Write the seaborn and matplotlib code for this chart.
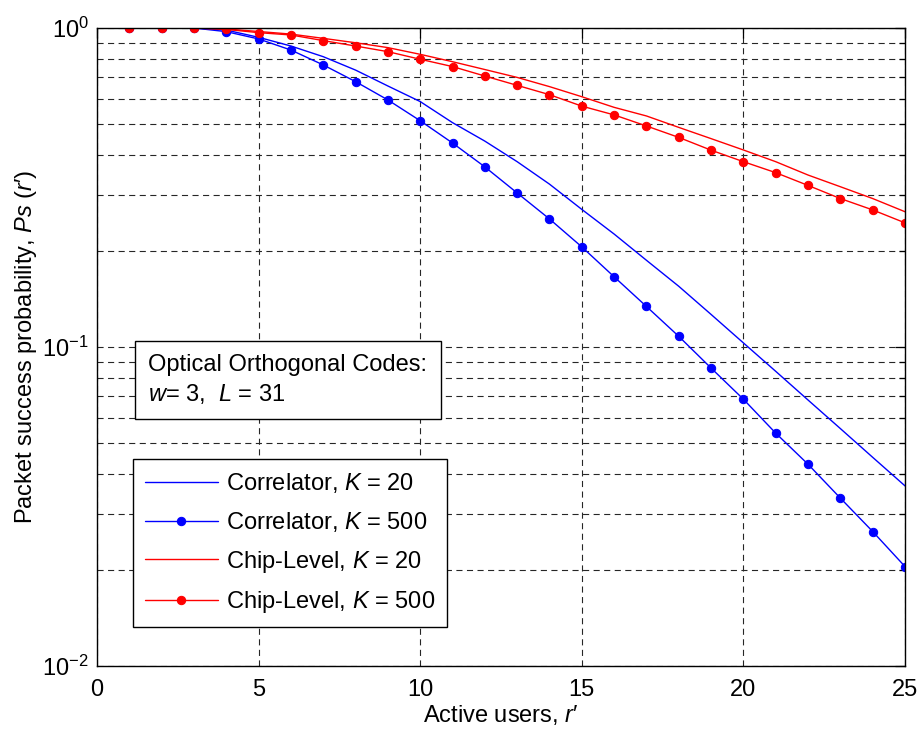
import matplotlib
matplotlib.use("Agg")
import matplotlib.pyplot as plt
import matplotlib.ticker as mticker
from matplotlib.patches import Rectangle
import seaborn as sns
import pandas as pd

# ---- data ----
users = list(range(1, 26))
corr_k20 = [1.0, 1.0, 1.0, 0.985, 0.935, 0.878, 0.813, 0.738, 0.658, 0.588,
            0.505, 0.442, 0.381, 0.324, 0.270, 0.226, 0.187, 0.155, 0.1265,
            0.103, 0.0839, 0.0682, 0.0555, 0.0451, 0.0367]
corr_k500 = [1.0, 1.0, 1.0, 0.974, 0.924, 0.853, 0.766, 0.679, 0.595, 0.512,
             0.436, 0.367, 0.304, 0.252, 0.206, 0.166, 0.134, 0.108, 0.0859,
             0.0686, 0.0537, 0.0429, 0.0336, 0.0264, 0.0205]
chip_k20 = [1.0, 1.0, 1.0, 0.993, 0.975, 0.957, 0.928, 0.899, 0.868, 0.827,
            0.784, 0.741, 0.700, 0.655, 0.609, 0.564, 0.530, 0.488, 0.450,
            0.4146, 0.381, 0.346, 0.318, 0.292, 0.2655]
chip_k500 = [1.0, 1.0, 1.0, 0.99, 0.967, 0.951, 0.913, 0.878, 0.843, 0.798,
             0.757, 0.707, 0.661, 0.618, 0.569, 0.534, 0.493, 0.454, 0.414,
             0.381, 0.352, 0.321, 0.292, 0.269, 0.245]
labels = ["Correlator, $K$ = 20", "Correlator, $K$ = 500",
          "Chip-Level, $K$ = 20", "Chip-Level, $K$ = 500"]
xticks = [0, 5, 10, 15, 20, 25]

sns.set_theme(style="white")
plt.rcParams["font.family"] = ["Liberation Sans", "DejaVu Sans"]
plt.rcParams["mathtext.fontset"] = "custom"
plt.rcParams["mathtext.rm"] = "Liberation Sans"
plt.rcParams["mathtext.it"] = "Liberation Sans:italic"
plt.rcParams["mathtext.bf"] = "Liberation Sans:bold"
plt.rcParams["text.color"] = "black"
plt.rcParams["axes.labelcolor"] = "black"
plt.rcParams["xtick.color"] = "black"
plt.rcParams["ytick.color"] = "black"

FS = 17
fig = plt.figure(figsize=(9.21, 7.29), dpi=100)
ax = fig.add_axes([97/921, 1-666/729, 808/921, 638/729])

series = [
    (corr_k20, "blue", None),
    (corr_k500, "blue", "o"),
    (chip_k20, "red", None),
    (chip_k500, "red", "o"),
]
for (vals, col, mk), lab in zip(series, labels):
    df = pd.DataFrame({"x": users, "y": vals})
    sns.lineplot(data=df, x="x", y="y", ax=ax, color=col, marker=mk,
                 markersize=6 if mk else 0, markeredgecolor=col,
                 linewidth=1.0, label=lab, zorder=3)

ax.set_yscale("log")
ax.set_xlim(0, 25)
ax.set_ylim(0.01, 1)
ax.set_xticks(xticks)
ax.yaxis.set_major_locator(mticker.LogLocator(base=10, numticks=5))
ax.yaxis.set_minor_locator(mticker.LogLocator(base=10, subs=range(2, 10), numticks=20))
ax.yaxis.set_minor_formatter(mticker.NullFormatter())

ax.tick_params(axis="both", which="both", direction="in", top=True, right=True,
               labelsize=FS, colors="black")
ax.tick_params(which="major", length=7, width=0.9)
ax.tick_params(which="minor", length=4, width=0.9)
ax.tick_params(axis="x", pad=9)
ax.tick_params(axis="y", pad=6)

dash = (0, (5.5, 4))
ax.grid(True, which="major", axis="x", color="0.15", linestyle=dash, linewidth=0.8)
ax.grid(True, which="both", axis="y", color="0.15", linestyle=dash, linewidth=0.8)
for s in ax.spines.values():
    s.set_color("black")
    s.set_linewidth(1.0)
    s.set_zorder(5)

ax.set_xlabel("Active users, $r$\u2032", fontsize=FS, labelpad=2, color="black")
ax.set_ylabel("Packet success probability, $Ps$ ($r$\u2032)", fontsize=FS,
              labelpad=2, color="black")

# annotation box
x0 = (135-97)/808
y0 = (666-419)/638
w = (441-135)/808
h = (419-341)/638
ax.add_patch(Rectangle((x0, y0), w, h, transform=ax.transAxes, facecolor="white",
                       edgecolor="black", linewidth=1.0, zorder=6))
ax.text((148-97)/808, (666-380)/638,
        "Optical Orthogonal Codes:\n$w$= 3,  $L$ = 31",
        transform=ax.transAxes, fontsize=FS, va="center", ha="left",
        linespacing=1.35, zorder=7, color="black")

leg = ax.legend(loc="lower left", bbox_to_anchor=((133-97)/808, (666-627)/638),
                borderaxespad=0, fontsize=FS, frameon=True, fancybox=False,
                edgecolor="black", framealpha=1, handlelength=3.1,
                handletextpad=0.35, labelspacing=0.62, borderpad=0.5)
leg.get_frame().set_linewidth(1.0)
leg.set_zorder(8)
for t in leg.get_texts():
    t.set_color("black")

fig.savefig("out.png", dpi=100)
